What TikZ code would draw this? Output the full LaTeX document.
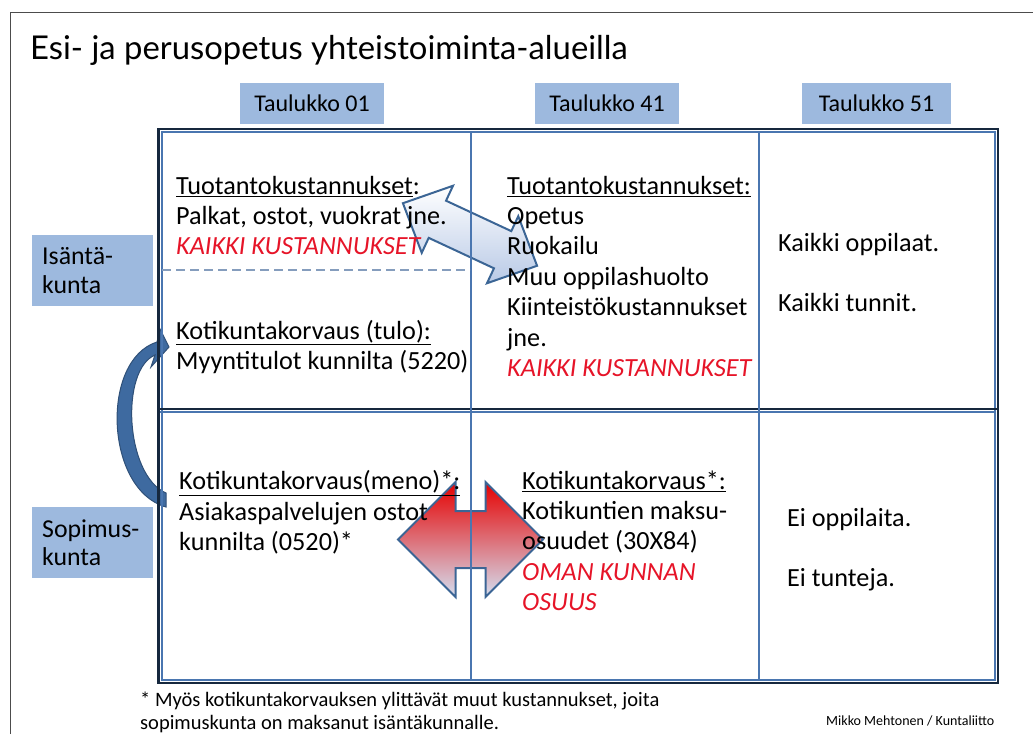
\documentclass[tikz,border=0pt]{standalone}
\usepackage{fontspec}
\setmainfont{Carlito}
\newfontfamily\titlefont{Lato}
\usepackage{tikz}
\usetikzlibrary{positioning}

\definecolor{hdrblue}{RGB}{157,185,222}
\definecolor{tabblue}{RGB}{74,118,176}
\definecolor{tabnavy}{RGB}{22,40,62}
\definecolor{redtxt}{RGB}{230,20,40}
\definecolor{arrline}{RGB}{59,101,149}
\definecolor{arrlight}{RGB}{184,201,230}
\definecolor{curveblue}{RGB}{62,106,160}
\newcommand{\redit}[1]{{\color{redtxt}\itshape #1}}

\begin{document}
\begin{tikzpicture}[x=1pt,y=-1pt,
  hdr/.style={fill=hdrblue,minimum width=144pt,minimum height=41pt,inner sep=0pt,font=\fontsize{24}{29}\selectfont},
  side/.style={fill=hdrblue,anchor=north west,minimum height=71pt,text width=101pt,inner xsep=10pt,align=left,font=\fontsize{25.8}{28.5}\selectfont},
  cell/.style={anchor=north west,inner sep=0pt,align=left,font=\fontsize{26.2}{30.4}\selectfont,execute at begin node=\strut},
  dblarrow/.style={draw=arrline,line width=2pt,line join=miter},
  outerblk/.style={draw=tabnavy,line width=2.5pt},
  outerblue/.style={draw=tabblue,line width=1.6pt},
  colline/.style={draw=tabblue,line width=2pt}]
\useasboundingbox (0,0) rectangle (1033,734);
\draw[gray!60!black,line width=1pt] (10,734) -- (10,12) -- (1033,12);
\node[anchor=base west,inner sep=0pt,font=\titlefont\fontsize{32.8}{38}\selectfont] (title) at (30,59) {Esi- ja perusopetus yhteistoiminta-alueilla};

\node[hdr]          (t_01) at (312,103.5) {Taulukko 01};
\node[hdr]          (t_41) at (607,103.5) {Taulukko 41};
\node[hdr,minimum width=149pt] (t_51) at (876.5,103.5) {Taulukko 51};

\node[side] (s_isanta)  at (32,235) {Isäntä-\\kunta};
\node[side] (s_sopimus) at (32,507) {Sopimus-\\kunta};

% nuolet
\fill[curveblue,draw=curveblue!75!black,line width=1pt]
  (166,507) .. controls (105,490) and (100,360) .. (157,342)
  -- (160,329) -- (169,347) -- (151,367) -- (155,355)
  .. controls (120,370) and (125,475) .. (166,493) -- cycle;
\begin{scope}[shift={(470,234.5)},rotate=-25]
\draw[dblarrow,top color=white,bottom color=arrlight]
  (-74,0) -- (-36,-37) -- (-36,-20.5) -- (36,-20.5) -- (36,-37) -- (74,0)
  -- (36,37) -- (36,20.5) -- (-36,20.5) -- (-36,37) -- cycle;
\end{scope}
\begin{scope}[shift={(470.5,539.5)}]
\draw[dblarrow,top color=red!90!black,middle color=arrlight!70!white,bottom color=arrlight!60!white]
  (-72.5,0) -- (-15,-57.5) -- (-15,-28.5) -- (15,-28.5) -- (15,-57.5) -- (72.5,0)
  -- (15,57.5) -- (15,28.5) -- (-15,28.5) -- (-15,57.5) -- cycle;
\end{scope}

% taulukko
\draw[outerblk] (158.5,129) rectangle (998,683);
\draw[outerblue] (162,132) rectangle (995,680);
\draw[tabnavy,line width=2.5pt] (158,409) -- (998,409);
\draw[tabblue,line width=1.5pt] (160,412) -- (996,412);
\draw[colline] (471,131) -- (471,681);
\draw[colline] (759,131) -- (759,681);
\draw[draw=hdrblue!85!black,line width=1.3pt,dash pattern=on 9pt off 5pt] (162,270) -- (470,270);

\node[cell] (c_tuot1) at (176,175.8) {\underline{Tuotantokustannukset}:\\Palkat, ostot, vuokrat jne.\\\redit{KAIKKI KUSTANNUKSET}};
\node[cell] (c_tulo)  at (176,319.8) {\underline{Kotikuntakorvaus (tulo):}\\Myyntitulot kunnilta (5220)};
\node[cell] (c_tuot41) at (507,175.8) {\underline{Tuotantokustannukset:}\\Opetus\\Ruokailu\\Muu oppilashuolto\\Kiinteistökustannukset\\jne.\\\redit{KAIKKI KUSTANNUKSET}};
\node[cell] (c_op51)  at (778,232.8) {Kaikki oppilaat.\\[29.6pt]Kaikki tunnit.};
\node[cell] (c_meno)  at (179,470.3) {\underline{Kotikuntakorvaus(meno)*:}\\Asiakaspalvelujen ostot\\kunnilta (0520)*};
\node[cell] (c_osuus) at (522,470.3) {\underline{Kotikuntakorvaus*:}\\Kotikuntien maksu-\\osuudet (30X84)\\\redit{OMAN KUNNAN}\\\redit{OSUUS}};
\node[cell] (c_ei51)  at (787,507.8) {Ei oppilaita.\\[29.6pt]Ei tunteja.};

\node[cell,font=\fontsize{20.5}{23}\selectfont] (note) at (140,691.5) {* Myös kotikuntakorvauksen ylittävät muut kustannukset, joita\\sopimuskunta on maksanut isäntäkunnalle.};
\node[anchor=base west,inner sep=0pt,font=\fontsize{14}{16}\selectfont] (credit) at (826,725) {Mikko Mehtonen / Kuntaliitto};
\end{tikzpicture}
\end{document}
